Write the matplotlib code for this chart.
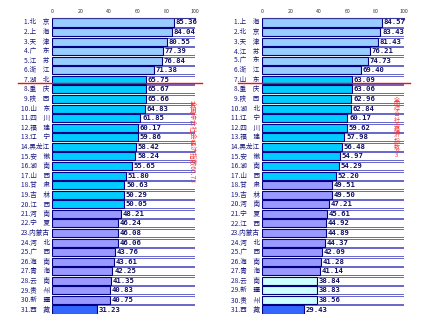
import matplotlib
matplotlib.use("Agg")
import matplotlib.pyplot as plt
from matplotlib.patches import Rectangle

plt.rcParams['font.family'] = ['Noto Sans CJK SC', 'DejaVu Sans']

left_names = ["北京", "上海", "天津", "广东", "江苏", "浙江", "湖北", "重庆", "陕西", "山东",
              "四川", "福建", "辽宁", "黑龙江", "安徽", "湖南", "山西", "甘肃", "吉林", "江西",
              "河南", "宁夏", "内蒙古", "河北", "广西", "海南", "青海", "云南", "贵州", "新疆", "西藏"]
left_values = [85.36, 84.04, 80.55, 77.39, 76.84, 71.38, 65.75, 65.67, 65.66, 64.83,
               61.85, 60.17, 59.86, 58.42, 58.24, 55.65, 51.80, 50.63, 50.29, 50.05,
               48.21, 46.24, 46.08, 46.06, 43.76, 43.61, 42.25, 41.35, 40.83, 40.75, 31.23]
left_groups = [0]*6 + [1]*14 + [2]*10 + [4]

right_names = ["上海", "北京", "天津", "江苏", "广东", "浙江", "山东", "重庆", "陕西", "湖北",
               "辽宁", "四川", "福建", "黑龙江", "安徽", "湖南", "山西", "甘肃", "吉林", "河南",
               "宁夏", "江西", "内蒙古", "河北", "广西", "海南", "青海", "云南", "新疆", "贵州", "西藏"]
right_values = [84.57, 83.43, 81.43, 76.21, 74.73, 69.40, 63.09, 63.06, 62.96, 62.84,
                60.17, 59.62, 57.98, 56.48, 54.97, 54.29, 52.20, 49.51, 49.50, 47.21,
                45.61, 44.92, 44.89, 44.37, 42.09, 41.28, 41.14, 38.84, 38.83, 38.56, 29.43]
right_groups = [0]*6 + [1]*11 + [2]*10 + [3]*3 + [4]

x_ticks = [0, 20, 40, 60, 80, 100]
left_note = "全国综合社会经济指数65.73"
left_note_value = 65.73
right_note = "全国综合社会经济指数63"
right_note_value = 63.08

group_colors = ['#99ccff', '#00ccff', '#9999ff', '#ccffff', '#3366ff']
label_color = '#1a1a80'

W, H = 430, 324
fig = plt.figure(figsize=(W/100, H/100), dpi=100)

def note_y_line(val, values):
    for i in range(len(values) - 1):
        if values[i] >= val >= values[i+1]:
            return i + 0.3
    return 0

def panel(left_px, right_px, names, values, groups, note, note_val, note_x, note_y, line_x0, line_x1, stacked):
    top_px, bot_px = 17.7, 314.3
    ax = fig.add_axes([left_px/W, 1 - bot_px/H, (right_px-left_px)/W, (bot_px-top_px)/H])
    n = len(values)
    ax.set_xlim(0, 100)
    ax.set_ylim(n - 0.5, -0.5)
    for s in ['right', 'bottom', 'left']:
        ax.spines[s].set_visible(False)
    ax.spines['top'].set_color('#333399')
    ax.spines['top'].set_linewidth(0.8)
    ax.xaxis.tick_top()
    ax.set_xticks(x_ticks)
    ax.set_xticklabels([str(t) for t in x_ticks], fontsize=3.8, color='#333333')
    ax.tick_params(axis='x', direction='in', length=1.5, width=0.6, pad=3, colors='#333399', labelcolor='#333333')
    ax.set_yticks([])
    ys = list(range(n))
    h = 0.84
    for i, (v, g) in enumerate(zip(values, groups)):
        ax.add_patch(Rectangle((v, i - h/2), 100 - v, h, facecolor='white',
                               edgecolor='#6666cc', lw=0.7, zorder=1))
    ax.barh(ys, values, height=h, color=[group_colors[g] for g in groups],
            edgecolor='#000080', linewidth=0.8, zorder=2)
    for i, (nm, v) in enumerate(zip(names, values)):
        lab = nm if len(nm) == 3 else nm[0] + "\u3000" + nm[1]
        ax.text(-1.5, i, f"{i+1}.{lab}", ha='right', va='center', fontsize=4.8,
                color=label_color, clip_on=False)
        ax.text(v + 1.2, i, f"{v:.2f}", ha='left', va='center', fontsize=5.2,
                fontweight='bold', color='#101060', family='DejaVu Sans Mono', zorder=3)
    ax.plot([line_x0, line_x1], [note_y_line(note_val, values)]*2, color='#ee1111', lw=1.0,
            clip_on=False, zorder=4)
    if stacked:
        ax.text(note_x, note_y, "\n".join(list(note)), ha='center', va='center',
                fontsize=4.3, color='#ff3333', linespacing=0.92, zorder=5)
    else:
        ax.text(note_x, note_y, note, ha='center', va='center', rotation=-90,
                fontsize=4.8, color='#ff3333', zorder=5)
    return ax

panel(52, 195, left_names, left_values, left_groups, left_note, left_note_value,
      97.5, 12.4, -23.8, 104.9, False)
panel(262, 404, right_names, right_values, right_groups, right_note, right_note_value,
      95.0, 11.0, -16.9, 104.2, True)

fig.savefig("out.png", dpi=100, facecolor='white')
